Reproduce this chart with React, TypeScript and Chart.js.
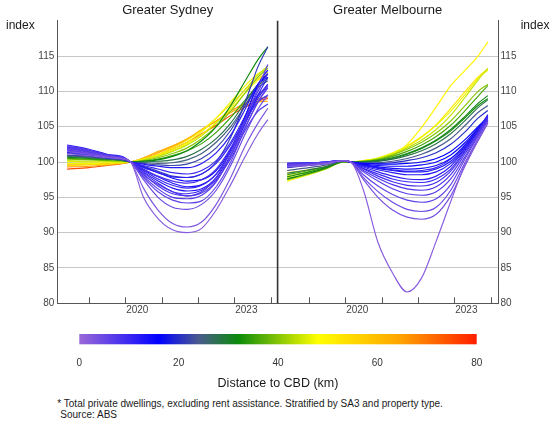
import React, { useEffect, useRef } from 'react';
import { Chart, registerables } from 'chart.js';

Chart.register(...registerables);

// ---------- data ----------
const T = [2018.4, 2019.0, 2019.5, 2019.95, 2020.15, 2020.5, 2020.9, 2021.3, 2021.7, 2022.1, 2022.5, 2022.9, 2023.3, 2023.65, 2023.92];

const YEAR_TICKS = [2019, 2020, 2021, 2022, 2023, 2024];
const YEAR_LABELS = ['', '2020', '', '', '2023', ''];
const Y_TICKS = [80, 85, 90, 95, 100, 105, 110, 115, 120];
const Y_LABELS = ['80', '85', '90', '95', '100', '105', '110', '115', ''];

const CBAR_TICKS = [0, 20, 40, 60, 80];
const CMAP_KM = [0, 16, 24, 32, 48, 64, 80];
const CMAP_COLORS = ['#9a68d8', '#0000ff', '#4a5a8e', '#0a8a0a', '#ffff00', '#ffa800', '#ff1e00'];

const PANEL_TITLES = ['Greater Sydney', 'Greater Melbourne'];
const AXIS_UNIT = 'index';
const CBAR_TITLE = 'Distance to CBD (km)';
const NOTE_1 = '* Total private dwellings, excluding rent assistance. Stratified by SA3 and property type.';
const NOTE_2 = 'Source: ABS';

const SYD_DIST = [2, 3, 5, 6, 7, 8, 9, 6, 10, 12, 8, 11, 13, 10, 15, 12, 21, 22, 25, 28, 32, 35, 40, 44, 47, 50, 54, 62, 66, 75];
const SYD_VALUES = [
  [101.2, 100.9, 100.6, 100.4, 100, 95.0, 92.0, 90.4, 90.0, 90.6, 93.2, 96.8, 100.8, 104.0, 106.0],
  [101.5, 101.1, 100.7, 100.5, 100, 96.3, 93.2, 91.3, 90.8, 91.5, 94.0, 97.8, 102.3, 105.5, 107.6],
  [101.8, 101.3, 100.8, 100.5, 100, 97.5, 95.0, 93.6, 93.3, 94.0, 96.0, 99.5, 104.0, 107.5, 109.5],
  [102.0, 101.5, 100.9, 100.5, 100, 97.8, 95.8, 94.6, 94.2, 94.5, 96.5, 100.0, 104.8, 108.5, 110.8],
  [101.6, 101.2, 100.8, 100.5, 100, 98.0, 96.2, 95.0, 94.8, 95.3, 97.2, 100.8, 105.0, 108.5, 110.5],
  [102.2, 101.6, 101.0, 100.6, 100, 98.3, 96.6, 95.5, 95.2, 95.8, 97.8, 101.5, 106.0, 110.0, 112.5],
  [101.9, 101.4, 100.9, 100.5, 100, 98.5, 97.0, 95.8, 95.5, 96.0, 97.5, 100.5, 104.5, 107.2, 108.2],
  [102.3, 101.7, 101.0, 100.6, 100, 98.2, 96.8, 95.8, 95.2, 95.6, 97.3, 101.0, 106.0, 110.5, 113.8],
  [101.7, 101.3, 100.8, 100.5, 100, 98.8, 97.6, 96.7, 96.3, 96.7, 98.3, 101.5, 105.5, 109.0, 111.0],
  [102.4, 101.8, 101.1, 100.7, 100, 98.6, 97.3, 96.3, 95.9, 96.2, 97.8, 101.0, 105.5, 109.5, 112.0],
  [101.5, 101.1, 100.7, 100.4, 100, 99.0, 98.0, 97.3, 97.0, 97.5, 99.0, 102.0, 106.0, 109.3, 111.0],
  [102.0, 101.5, 100.9, 100.5, 100, 99.2, 98.5, 97.9, 97.8, 98.3, 99.8, 102.5, 106.0, 108.5, 109.5],
  [101.8, 101.3, 100.8, 100.5, 100, 98.9, 97.9, 97.0, 96.5, 96.8, 98.3, 101.5, 106.5, 111.0, 113.0],
  [102.1, 101.6, 101.0, 100.6, 100, 99.5, 99.0, 98.5, 98.3, 98.8, 100.2, 102.8, 106.5, 109.5, 110.5],
  [101.4, 101.0, 100.6, 100.4, 100, 99.3, 98.5, 97.7, 97.3, 97.5, 98.8, 101.8, 106.5, 110.8, 112.5],
  [101.9, 101.4, 100.9, 100.5, 100, 99.7, 99.4, 99.2, 99.2, 99.8, 101.3, 103.8, 107.5, 111.0, 112.0],
  [101.3, 100.9, 100.6, 100.4, 100, 99.4, 98.7, 98.0, 97.8, 98.3, 100.0, 103.5, 108.5, 113.5, 116.3],
  [101.0, 100.8, 100.5, 100.3, 100, 99.8, 99.6, 99.5, 99.7, 100.5, 102.0, 104.5, 108.0, 111.0, 112.5],
  [100.9, 100.7, 100.5, 100.3, 100, 99.9, 99.8, 99.9, 100.3, 101.2, 102.8, 105.0, 108.0, 110.5, 111.5],
  [100.8, 100.6, 100.4, 100.2, 100, 100.0, 100.1, 100.3, 100.8, 101.8, 103.3, 105.5, 108.5, 111.0, 112.0],
  [100.7, 100.5, 100.4, 100.2, 100, 100.1, 100.3, 100.8, 101.6, 103.0, 105.0, 108.0, 111.5, 114.5, 116.3],
  [100.5, 100.4, 100.3, 100.2, 100, 100.1, 100.4, 100.9, 101.6, 102.6, 104.2, 106.3, 108.8, 110.8, 111.8],
  [100.4, 100.3, 100.2, 100.1, 100, 100.2, 100.6, 101.2, 102.0, 103.3, 105.0, 107.2, 109.8, 112.0, 113.3],
  [100.2, 100.1, 100.1, 100.0, 100, 100.3, 100.8, 101.5, 102.4, 103.7, 105.5, 107.8, 110.3, 112.3, 113.6],
  [99.8, 99.8, 99.9, 99.9, 100, 100.4, 101.0, 101.8, 102.8, 104.3, 106.2, 108.5, 110.8, 112.5, 113.2],
  [100.1, 100.0, 100.0, 100.0, 100, 100.3, 100.9, 101.6, 102.6, 103.9, 105.6, 107.5, 109.8, 111.6, 112.4],
  [99.5, 99.6, 99.7, 99.9, 100, 100.4, 101.1, 102.0, 103.1, 104.5, 106.2, 108.2, 110.2, 111.8, 112.7],
  [99.7, 99.7, 99.8, 99.9, 100, 100.6, 101.5, 102.3, 103.3, 104.6, 105.8, 107.0, 108.0, 108.5, 108.6],
  [99.3, 99.4, 99.6, 99.8, 100, 100.5, 101.3, 102.2, 103.2, 104.5, 105.8, 107.2, 108.3, 108.9, 109.2],
  [99.0, 99.2, 99.5, 99.8, 100, 100.4, 101.0, 101.8, 102.8, 104.0, 105.2, 106.6, 107.8, 108.6, 109.0],
];

const MEL_DIST = [2, 4, 5, 6, 7, 8, 9, 10, 11, 12, 13, 14, 15, 16, 10, 20, 24, 28, 31, 33, 36, 40, 44, 47, 50, 53];
const MEL_VALUES = [
  [99.3, 99.5, 99.8, 100.2, 100, 96.0, 88.6, 84.3, 81.6, 83.6, 88.8, 94.4, 99.8, 103.0, 105.5],
  [99.4, 99.6, 99.9, 100.2, 100, 97.5, 95.0, 93.2, 92.2, 91.9, 92.6, 95.2, 99.5, 103.0, 105.5],
  [99.6, 99.7, 99.9, 100.2, 100, 97.8, 95.8, 94.3, 93.3, 93.0, 93.6, 96.0, 100.0, 103.3, 105.6],
  [99.5, 99.7, 99.9, 100.2, 100, 98.2, 96.6, 95.4, 94.6, 94.3, 94.8, 96.8, 100.5, 103.6, 105.8],
  [99.7, 99.8, 100.0, 100.2, 100, 98.6, 97.3, 96.2, 95.5, 95.3, 95.8, 97.6, 100.8, 103.8, 106.0],
  [99.6, 99.7, 99.9, 100.2, 100, 98.8, 97.7, 96.8, 96.2, 96.0, 96.5, 98.2, 101.2, 104.0, 106.2],
  [99.8, 99.9, 100.0, 100.2, 100, 99.0, 98.0, 97.2, 96.7, 96.6, 97.1, 98.7, 101.5, 104.2, 106.3],
  [99.5, 99.6, 99.9, 100.2, 100, 99.1, 98.3, 97.6, 97.2, 97.1, 97.6, 99.0, 101.7, 104.3, 106.5],
  [99.7, 99.8, 100.0, 100.2, 100, 99.3, 98.6, 98.0, 97.6, 97.5, 98.0, 99.4, 101.9, 104.5, 106.7],
  [99.6, 99.7, 99.9, 100.2, 100, 99.4, 98.9, 98.5, 98.2, 98.2, 98.6, 99.8, 102.0, 104.3, 106.0],
  [99.8, 99.9, 100.0, 100.2, 100, 99.5, 99.1, 98.8, 98.6, 98.6, 99.0, 100.1, 102.2, 104.4, 106.0],
  [99.5, 99.7, 99.9, 100.2, 100, 99.6, 99.3, 99.1, 99.0, 99.1, 99.5, 100.5, 102.4, 104.5, 105.8],
  [99.7, 99.8, 100.0, 100.2, 100, 99.7, 99.5, 99.4, 99.4, 99.6, 100.0, 101.0, 102.8, 104.8, 106.2],
  [99.4, 99.6, 99.9, 100.2, 100, 99.8, 99.7, 99.7, 99.8, 100.0, 100.5, 101.5, 103.2, 105.0, 106.3],
  [99.6, 99.8, 100.0, 100.2, 100, 99.6, 99.2, 98.9, 98.7, 98.8, 99.2, 100.4, 102.5, 104.7, 106.6],
  [99.2, 99.5, 99.8, 100.2, 100, 99.8, 99.8, 99.9, 100.2, 100.6, 101.3, 102.5, 104.3, 106.2, 107.3],
  [98.8, 99.2, 99.6, 100.1, 100, 99.9, 99.9, 100.1, 100.5, 101.1, 102.0, 103.3, 105.2, 107.0, 108.0],
  [98.4, 98.9, 99.4, 100.1, 100, 100.0, 100.1, 100.4, 100.9, 101.6, 102.6, 104.0, 105.9, 107.7, 108.8],
  [97.6, 98.4, 99.2, 100.0, 100, 100.0, 100.2, 100.6, 101.2, 102.0, 103.1, 104.6, 106.5, 108.3, 109.4],
  [97.9, 98.6, 99.3, 100.1, 100, 100.0, 100.1, 100.5, 101.1, 101.9, 103.0, 104.4, 106.3, 108.0, 109.0],
  [98.2, 98.8, 99.4, 100.1, 100, 100.1, 100.3, 100.8, 101.5, 102.4, 103.6, 105.2, 107.3, 109.3, 110.8],
  [97.5, 98.3, 99.1, 100.0, 100, 100.1, 100.4, 101.0, 101.8, 102.8, 104.1, 105.8, 108.0, 110.0, 111.0],
  [98.0, 98.6, 99.3, 100.1, 100, 100.1, 100.5, 101.1, 102.0, 103.1, 104.6, 106.6, 109.2, 111.6, 113.3],
  [97.3, 98.2, 99.1, 100.0, 100, 100.2, 100.6, 101.3, 102.3, 103.6, 105.2, 107.2, 109.6, 111.8, 113.0],
  [98.5, 98.9, 99.4, 100.1, 100, 100.2, 100.5, 100.9, 102.5, 104.9, 107.8, 110.8, 113.0, 115.0, 117.0],
  [97.7, 98.4, 99.2, 100.0, 100, 100.1, 100.5, 101.2, 102.2, 103.5, 105.3, 107.6, 110.0, 112.0, 113.2],
];

// ---------- helpers ----------
const FONT = "Arial, 'Liberation Sans', sans-serif";

function hexToRgb(h: string) {
  const n = parseInt(h.slice(1), 16);
  return [(n >> 16) & 255, (n >> 8) & 255, n & 255];
}
function cmap(km: number) {
  for (let i = 0; i < CMAP_KM.length - 1; i++) {
    if (km <= CMAP_KM[i + 1]) {
      const f = (km - CMAP_KM[i]) / (CMAP_KM[i + 1] - CMAP_KM[i]);
      const a = hexToRgb(CMAP_COLORS[i]);
      const b = hexToRgb(CMAP_COLORS[i + 1]);
      const c = a.map((v, k) => Math.round(v + (b[k] - v) * f));
      return `rgb(${c[0]},${c[1]},${c[2]})`;
    }
  }
  return CMAP_COLORS[CMAP_COLORS.length - 1];
}

function makeDatasets(dist: number[], values: number[][]) {
  return values.map((vals, i) => ({
    label: `${dist[i]} km`,
    data: vals.map((v, k) => ({ x: T[k], y: v })),
    borderColor: cmap(dist[i]),
    borderWidth: 1.15,
    pointRadius: 0,
    cubicInterpolationMode: 'monotone' as const,
    fill: false,
  }));
}

function panelPlugin(title: string, side: 'left' | 'right') {
  return {
    id: 'panelDecor' + side,
    afterDraw(chart: any) {
      const { ctx, chartArea, scales } = chart;
      const x = scales.x;
      ctx.save();
      // inside tick marks on the bottom axis
      ctx.strokeStyle = '#555';
      ctx.lineWidth = 1;
      x.ticks.forEach((t: any) => {
        const px = Math.round(x.getPixelForValue(t.value)) + 0.5;
        ctx.beginPath();
        ctx.moveTo(px, chartArea.bottom);
        ctx.lineTo(px, chartArea.bottom - 6);
        ctx.stroke();
      });
      // divider between panels (drawn once, by the right panel)
      if (side === 'right') {
        ctx.strokeStyle = '#333';
        ctx.lineWidth = 1.6;
        ctx.beginPath();
        ctx.moveTo(chartArea.left + 0.3, chartArea.top);
        ctx.lineTo(chartArea.left + 0.3, chartArea.bottom);
        ctx.stroke();
      }
      // title
      ctx.fillStyle = '#1a1a1a';
      ctx.font = `13px ${FONT}`;
      ctx.textAlign = 'center';
      ctx.textBaseline = 'middle';
      ctx.fillText(title, (chartArea.left + chartArea.right) / 2, 10);
      // unit
      ctx.font = `12px ${FONT}`;
      ctx.textAlign = 'left';
      const ux = side === 'left' ? 6 : chartArea.right + 22.7;
      ctx.fillText(AXIS_UNIT, ux, 26);
      ctx.restore();
    },
  };
}

function panelConfig(title: string, side: 'left' | 'right', dist: number[], values: number[][]) {
  return {
    type: 'line' as const,
    data: { datasets: makeDatasets(dist, values) },
    options: {
      animation: false as const,
      responsive: false,
      events: [],
      layout: { padding: side === 'left' ? { left: 0, right: 1, top: 20.7, bottom: 0 } : { left: 1.3, right: 0, top: 20.7, bottom: 0 } },
      plugins: { legend: { display: false }, tooltip: { enabled: false }, title: { display: false } },
      scales: {
        x: {
          type: 'linear' as const,
          min: 2018.13,
          max: 2024.2,
          afterBuildTicks: (scale: any) => {
            scale.ticks = YEAR_TICKS.map((v) => ({ value: v }));
          },
          afterFit: (scale: any) => {
            scale.height = 14.7;
          },
          grid: { display: true, drawOnChartArea: false, drawTicks: false },
          border: { display: true, color: '#555', width: 1 },
          ticks: {
            autoSkip: false,
            maxRotation: 0,
            padding: 1,
            labelOffset: 12,
            color: '#444',
            font: { family: FONT, size: 10 },
            callback: (v: any) => YEAR_LABELS[YEAR_TICKS.indexOf(Number(v))] ?? '',
          },
        },
        y: {
          type: 'linear' as const,
          position: side,
          min: 80,
          max: 120,
          afterBuildTicks: (scale: any) => {
            scale.ticks = Y_TICKS.map((v) => ({ value: v }));
          },
          afterFit: (scale: any) => {
            scale.width = side === 'left' ? 57.3 : 61;
          },
          grid: {
            drawTicks: false,
            lineWidth: 1,
            color: (c: any) => (c.tick && c.tick.value > 80 && c.tick.value < 120 ? '#c6c6c6' : 'rgba(0,0,0,0)'),
          },
          border: { display: true, color: side === 'left' ? '#555' : '#555', width: 1 },
          ticks: {
            padding: side === 'left' ? 3 : 2.5,
            color: '#444',
            font: { family: FONT, size: 10 },
            callback: (v: any) => Y_LABELS[Y_TICKS.indexOf(Number(v))] ?? '',
          },
        },
      },
    },
    plugins: [panelPlugin(title, side)],
  };
}

const gradientPlugin = {
  id: 'cbarGradient',
  beforeDatasetsDraw(chart: any) {
    const { ctx, chartArea, scales } = chart;
    const x = scales.x;
    const x0 = x.getPixelForValue(CMAP_KM[0]);
    const x1 = x.getPixelForValue(CMAP_KM[CMAP_KM.length - 1]);
    const g = ctx.createLinearGradient(x0, 0, x1, 0);
    CMAP_KM.forEach((km, i) => g.addColorStop((km - CMAP_KM[0]) / (CMAP_KM[CMAP_KM.length - 1] - CMAP_KM[0]), CMAP_COLORS[i]));
    ctx.save();
    ctx.fillStyle = g;
    ctx.fillRect(x0, chartArea.top, x1 - x0, chartArea.bottom - chartArea.top);
    ctx.restore();
  },
};

export default function App() {
  const leftRef = useRef<HTMLCanvasElement>(null);
  const rightRef = useRef<HTMLCanvasElement>(null);
  const barRef = useRef<HTMLCanvasElement>(null);

  useEffect(() => {
    const charts: Chart[] = [];
    charts.push(new Chart(leftRef.current as HTMLCanvasElement, panelConfig(PANEL_TITLES[0], 'left', SYD_DIST, SYD_VALUES) as any));
    charts.push(new Chart(rightRef.current as HTMLCanvasElement, panelConfig(PANEL_TITLES[1], 'right', MEL_DIST, MEL_VALUES) as any));
    charts.push(
      new Chart(barRef.current as HTMLCanvasElement, {
        type: 'line',
        data: { datasets: [] },
        options: {
          animation: false,
          responsive: false,
          events: [],
          layout: { padding: { left: 79.3, right: 82.3, top: 8, bottom: 0 } },
          plugins: { legend: { display: false }, tooltip: { enabled: false } },
          scales: {
            x: {
              type: 'linear',
              min: CBAR_TICKS[0],
              max: CBAR_TICKS[CBAR_TICKS.length - 1],
              afterBuildTicks: (scale: any) => {
                scale.ticks = CBAR_TICKS.map((v) => ({ value: v }));
              },
              afterFit: (scale: any) => {
                scale.height = 49.7;
              },
              grid: { display: false },
              border: { display: false },
              ticks: { padding: 5, color: '#333', font: { family: FONT, size: 10 }, callback: (v: any) => String(v) },
              title: { display: true, text: CBAR_TITLE, color: '#1a1a1a', font: { family: FONT, size: 12.5 }, padding: { top: 0, bottom: 2.5 } },
            },
            y: { display: false, min: 0, max: 1 },
          },
        },
        plugins: [gradientPlugin],
      } as any)
    );
    return () => charts.forEach((c) => c.destroy());
  }, []);

  return (
    <div style={{ position: 'absolute', left: 0, top: 0, width: 559, height: 431, background: '#fff', overflow: 'hidden' }}>
      <canvas ref={leftRef} width={279} height={318} style={{ position: 'absolute', left: 0, top: 0 }} />
      <canvas ref={rightRef} width={283} height={318} style={{ position: 'absolute', left: 276, top: 0 }} />
      <canvas ref={barRef} width={559} height={68} style={{ position: 'absolute', left: 0, top: 326 }} />
      <div style={{ position: 'absolute', left: 57.3, top: 399, fontFamily: FONT, fontSize: 10, lineHeight: '10.5px', color: '#1a1a1a', whiteSpace: 'nowrap' }}>
        <div>{NOTE_1}</div>
        <div style={{ paddingLeft: 3 }}>{NOTE_2}</div>
      </div>
    </div>
  );
}
